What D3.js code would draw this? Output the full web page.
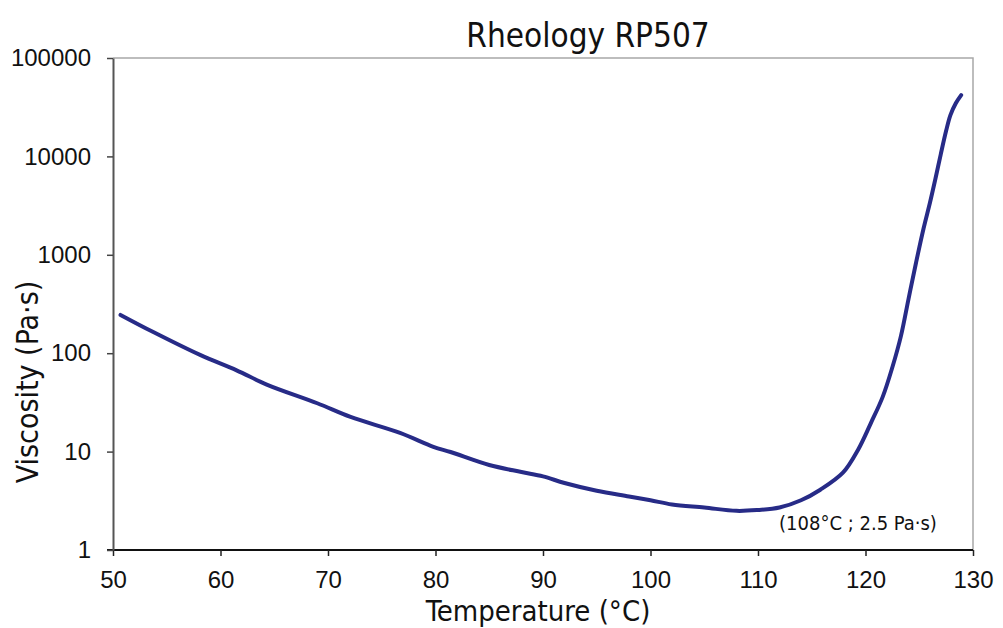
<!DOCTYPE html>
<html>
<head>
<meta charset="utf-8">
<script src="https://cdn.jsdelivr.net/npm/d3@7"></script>
<style>
    body { margin: 0; background: #fff; }
    svg { display: block; font-family: "DejaVu Sans", sans-serif; font-stretch: condensed; }
</style>
</head>
<body>
<div id="chart"></div>
<script>
const temperature = [50.7, 53.7, 58.1, 61.5, 64.3, 69, 72.1, 76.7, 79.8, 81.4, 85, 88, 90, 92, 95, 98, 100, 102, 105, 108, 110, 112, 114, 115.8, 117.9, 119.3, 120.5, 121.6, 122.5, 123.3, 124, 124.7, 125.4, 126, 126.5, 127, 127.5, 127.9, 128.4, 128.9];
const viscosity = [245, 165, 96, 67, 48, 31, 22.5, 15.5, 11.2, 9.9, 7.3, 6.2, 5.6, 4.8, 4.0, 3.5, 3.2, 2.9, 2.7, 2.5, 2.55, 2.7, 3.2, 4.1, 6.1, 10.4, 19.5, 36, 72, 150, 355, 830, 1850, 3400, 5900, 10500, 18200, 26300, 34700, 42000];
const xTicks = [50, 60, 70, 80, 90, 100, 110, 120, 130];
const yTicks = [1, 10, 100, 1000, 10000, 100000];

const data = temperature.map((t, i) => ({ t: t, v: viscosity[i] }));

const margin = { top: 58, right: 30, bottom: 78, left: 113 },
    width = 1003 - margin.left - margin.right,
    height = 628 - margin.top - margin.bottom;

const svgContainer = d3.select("#chart").append("svg")
    .attr("width", 1003)
    .attr("height", 628);

const svg = svgContainer.append("g")
    .attr("transform", `translate(${margin.left},${margin.top})`);

const x = d3.scaleLinear()
    .domain([50, 130])
    .range([0, width]);

const y = d3.scaleLog()
    .domain([1, 100000])
    .range([height, 0]);

// light frame on top and right
svg.append("path")
    .attr("d", `M0,0H${width}V${height}`)
    .attr("fill", "none")
    .attr("stroke", "#a8a8a8")
    .attr("stroke-width", 1.5);

const xAxisGroup = svg.append("g")
    .attr("transform", `translate(0,${height})`)
    .call(d3.axisBottom(x).tickValues(xTicks).tickSize(6).tickPadding(15).tickSizeOuter(0));

xAxisGroup.select(".domain").attr("stroke", "#111").attr("stroke-width", 2).attr("d", `M-6,0H${width}`);
xAxisGroup.selectAll(".tick line").attr("stroke", "#222").attr("stroke-width", 1.5);
xAxisGroup.selectAll("text").style("fill", "#111").style("font-size", "24px");

const yAxisGroup = svg.append("g")
    .call(d3.axisLeft(y).tickValues(yTicks).tickFormat(d3.format("d")).tickSize(6).tickPadding(16).tickSizeOuter(0));

yAxisGroup.select(".domain").attr("stroke", "#555").attr("stroke-width", 2);
yAxisGroup.selectAll(".tick line").attr("stroke", "#444").attr("stroke-width", 1.5);
yAxisGroup.selectAll("text").style("fill", "#111").style("font-size", "24px");

const line = d3.line()
    .x(d => x(d.t))
    .y(d => y(d.v))
    .curve(d3.curveCatmullRom.alpha(0.5));

svg.append("path")
    .datum(data)
    .attr("fill", "none")
    .attr("stroke", "#272b87")
    .attr("stroke-width", 4)
    .attr("stroke-linecap", "round")
    .attr("d", line);

svg.append("text")
    .attr("x", x(119.3))
    .attr("y", height - 20)
    .style("text-anchor", "middle")
    .style("font-size", "20px")
    .style("fill", "#111")
    .text("(108°C ; 2.5 Pa·s)");

svgContainer.append("text")
    .attr("x", 588)
    .attr("y", 47)
    .style("text-anchor", "middle")
    .style("font-size", "33px")
    .style("fill", "#111")
    .text("Rheology RP507");

svgContainer.append("text")
    .attr("x", 538)
    .attr("y", 621)
    .style("text-anchor", "middle")
    .style("font-size", "29px")
    .style("fill", "#111")
    .text("Temperature (°C)");

svgContainer.append("text")
    .attr("transform", "rotate(-90)")
    .attr("x", -382)
    .attr("y", 38)
    .style("text-anchor", "middle")
    .style("font-size", "30px")
    .style("fill", "#111")
    .text("Viscosity (Pa·s)");
</script>
</body>
</html>
